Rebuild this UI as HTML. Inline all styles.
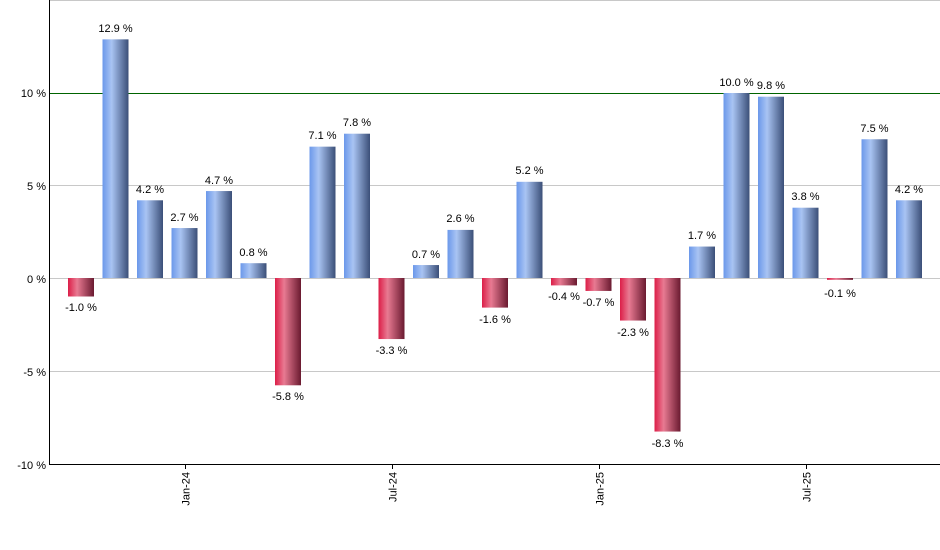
<!DOCTYPE html>
<html><head><meta charset="utf-8"><style>
html,body{margin:0;padding:0;background:#fff;}
svg{display:block;font-family:"Liberation Sans",Arial,sans-serif;}
</style></head><body>
<svg width="940" height="550" viewBox="0 0 940 550" xmlns="http://www.w3.org/2000/svg">
<defs>
<linearGradient id="gb" x1="0" x2="1" y1="0" y2="0">
<stop offset="0" stop-color="#6b98ea"/><stop offset="0.35" stop-color="#a9c4f3"/><stop offset="1" stop-color="#3b4f78"/>
</linearGradient>
<linearGradient id="gr" x1="0" x2="1" y1="0" y2="0">
<stop offset="0" stop-color="#dc1e48"/><stop offset="0.35" stop-color="#e87a92"/><stop offset="1" stop-color="#6a1a30"/>
</linearGradient>
</defs>
<g stroke="#c8c8c8" stroke-width="1">
<line x1="50" x2="940" y1="0.5" y2="0.5"/>
<line x1="50" x2="940" y1="185.5" y2="185.5"/>
<line x1="50" x2="940" y1="278.5" y2="278.5"/>
<line x1="50" x2="940" y1="371.5" y2="371.5"/>
</g>
<line x1="50" x2="940" y1="93.5" y2="93.5" stroke="#006400"/>
<g id="bars">
<rect x="68" y="278" width="26" height="18.5" fill="url(#gr)"/>
<rect x="102.5" y="39.35" width="26" height="238.65" fill="url(#gb)"/>
<rect x="137" y="200.3" width="26" height="77.7" fill="url(#gb)"/>
<rect x="171.5" y="228.05" width="26" height="49.95" fill="url(#gb)"/>
<rect x="206" y="191.05" width="26" height="86.95" fill="url(#gb)"/>
<rect x="240.5" y="263.2" width="26" height="14.8" fill="url(#gb)"/>
<rect x="275" y="278" width="26" height="107.3" fill="url(#gr)"/>
<rect x="309.5" y="146.65" width="26" height="131.35" fill="url(#gb)"/>
<rect x="344" y="133.7" width="26" height="144.3" fill="url(#gb)"/>
<rect x="378.5" y="278" width="26" height="61.05" fill="url(#gr)"/>
<rect x="413" y="265.05" width="26" height="12.95" fill="url(#gb)"/>
<rect x="447.5" y="229.9" width="26" height="48.1" fill="url(#gb)"/>
<rect x="482" y="278" width="26" height="29.6" fill="url(#gr)"/>
<rect x="516.5" y="181.8" width="26" height="96.2" fill="url(#gb)"/>
<rect x="551" y="278" width="26" height="7.4" fill="url(#gr)"/>
<rect x="585.5" y="278" width="26" height="12.95" fill="url(#gr)"/>
<rect x="620" y="278" width="26" height="42.55" fill="url(#gr)"/>
<rect x="654.5" y="278" width="26" height="153.55" fill="url(#gr)"/>
<rect x="689" y="246.55" width="26" height="31.45" fill="url(#gb)"/>
<rect x="723.5" y="93" width="26" height="185" fill="url(#gb)"/>
<rect x="758" y="96.7" width="26" height="181.3" fill="url(#gb)"/>
<rect x="792.5" y="207.7" width="26" height="70.3" fill="url(#gb)"/>
<rect x="827" y="278" width="26" height="1.85" fill="url(#gr)"/>
<rect x="861.5" y="139.25" width="26" height="138.75" fill="url(#gb)"/>
<rect x="896" y="200.3" width="26" height="77.7" fill="url(#gb)"/>
</g>
<g font-size="11" fill="#000" text-anchor="middle">
<text x="81" y="311">-1.0 %</text>
<text x="115.5" y="32">12.9 %</text>
<text x="150" y="193">4.2 %</text>
<text x="184.5" y="221">2.7 %</text>
<text x="219" y="184">4.7 %</text>
<text x="253.5" y="256">0.8 %</text>
<text x="288" y="400">-5.8 %</text>
<text x="322.5" y="139">7.1 %</text>
<text x="357" y="126">7.8 %</text>
<text x="391.5" y="354">-3.3 %</text>
<text x="426" y="258">0.7 %</text>
<text x="460.5" y="222">2.6 %</text>
<text x="495" y="323">-1.6 %</text>
<text x="529.5" y="174">5.2 %</text>
<text x="564" y="300">-0.4 %</text>
<text x="598.5" y="306">-0.7 %</text>
<text x="633" y="336">-2.3 %</text>
<text x="667.5" y="447">-8.3 %</text>
<text x="702" y="239">1.7 %</text>
<text x="736.5" y="86">10.0 %</text>
<text x="771" y="89">9.8 %</text>
<text x="805.5" y="200">3.8 %</text>
<text x="840" y="297">-0.1 %</text>
<text x="874.5" y="132">7.5 %</text>
<text x="909" y="193">4.2 %</text>
</g>
<g font-size="11" fill="#000" text-anchor="end">
<text x="46" y="97">10 %</text>
<text x="46" y="190">5 %</text>
<text x="46" y="283">0 %</text>
<text x="46" y="376">-5 %</text>
<text x="46" y="469">-10 %</text>
</g>
<line x1="49.5" x2="49.5" y1="0" y2="465" stroke="#000"/>
<line x1="49" x2="940" y1="464.5" y2="464.5" stroke="#000"/>
<g stroke="#000">
<line x1="185.5" x2="185.5" y1="464" y2="469"/>
<line x1="392.5" x2="392.5" y1="464" y2="469"/>
<line x1="599.5" x2="599.5" y1="464" y2="469"/>
<line x1="806.5" x2="806.5" y1="464" y2="469"/>
</g>
<g font-size="11" fill="#000" text-anchor="end">
<text transform="translate(189.5,472) rotate(-90)">Jan-24</text>
<text transform="translate(396.5,472) rotate(-90)">Jul-24</text>
<text transform="translate(603.5,472) rotate(-90)">Jan-25</text>
<text transform="translate(810.5,472) rotate(-90)">Jul-25</text>
</g>
</svg>
</body></html>
